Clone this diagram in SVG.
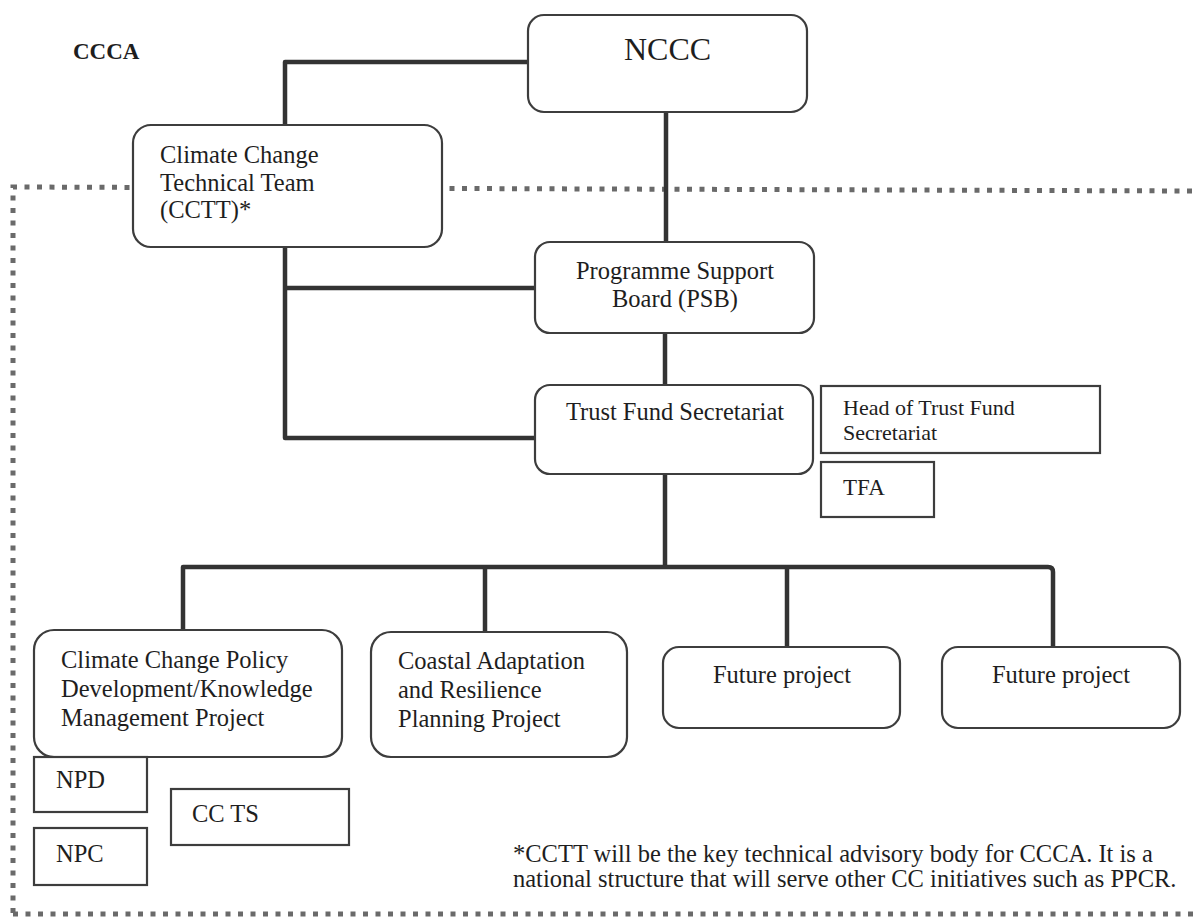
<svg xmlns="http://www.w3.org/2000/svg" width="1194" height="918" viewBox="0 0 1194 918">
<style>
.bg{fill:#ffffff}
.rbox{fill:#ffffff;stroke:#3d3d3d;stroke-width:2.2}
.sbox{fill:#ffffff;stroke:#3d3d3d;stroke-width:2.2}
.conn{fill:none;stroke:#333333;stroke-width:4.5;stroke-linejoin:round}
.dot{fill:none;stroke:#6a6a6a;stroke-width:5;stroke-dasharray:5 7.5}
text{font-family:"Liberation Serif","Times New Roman",serif;fill:#1e1e1e}
.t{font-size:24.5px}
.tc{font-size:24.5px;text-anchor:middle}
.small{font-size:22px}
</style>
<rect class="bg" x="0" y="0" width="1194" height="918"/>

<g id="boundary">
  <path class="dot" d="M13,913 L13,187 L1194,191"/>
  <path class="dot" d="M13,914 L1194,914"/>
</g>

<g id="connectors">
  <path class="conn" d="M285,125 L285,62 L533,62"/>
  <path class="conn" d="M666,112 L666,242"/>
  <path class="conn" d="M285,247 L285,438 L535,438"/>
  <path class="conn" d="M285,288 L535,288"/>
  <path class="conn" d="M665,333 L665,385"/>
  <path class="conn" d="M665,474 L665,567"/>
  <path class="conn" d="M183,630 L183,567 L1048,567 Q1053,567 1053,572 L1053,647"/>
  <path class="conn" d="M485,567 L485,632"/>
  <path class="conn" d="M787,567 L787,647"/>
</g>

<g id="label-ccca">
  <text x="73" y="59" style="font-size:23px;font-weight:bold">CCCA</text>
</g>

<g id="node-nccc">
  <rect class="rbox" x="528" y="15" width="279" height="97" rx="16"/>
  <text x="667.5" y="60" style="font-size:32px;text-anchor:middle">NCCC</text>
</g>

<g id="node-cctt">
  <rect class="rbox" x="133" y="125" width="309" height="122" rx="18"/>
  <text class="t" x="160" y="163">Climate Change</text>
  <text class="t" x="160" y="191">Technical Team</text>
  <text class="t" x="160" y="218">(CCTT)*</text>
</g>

<g id="node-psb">
  <rect class="rbox" x="535" y="242" width="279" height="91" rx="15"/>
  <text class="tc" x="675" y="279">Programme Support</text>
  <text class="tc" x="675" y="307">Board (PSB)</text>
</g>

<g id="node-tfs">
  <rect class="rbox" x="535" y="385" width="278" height="89" rx="15"/>
  <text class="tc" x="675" y="420">Trust Fund Secretariat</text>
</g>

<g id="node-head-tfs">
  <rect class="sbox" x="821" y="386" width="279" height="67"/>
  <text class="small" x="843" y="415">Head of Trust Fund</text>
  <text class="small" x="843" y="440">Secretariat</text>
</g>

<g id="node-tfa">
  <rect class="sbox" x="821" y="462" width="113" height="55"/>
  <text x="843" y="495" style="font-size:23px">TFA</text>
</g>

<g id="node-ccpd">
  <rect class="rbox" x="34" y="630" width="308" height="127" rx="20"/>
  <text class="t" x="61" y="668">Climate Change Policy</text>
  <text class="t" x="61" y="697">Development/Knowledge</text>
  <text class="t" x="61" y="726">Management Project</text>
</g>

<g id="node-carp">
  <rect class="rbox" x="371" y="632" width="256" height="125" rx="20"/>
  <text class="t" x="398" y="669">Coastal Adaptation</text>
  <text class="t" x="398" y="698">and Resilience</text>
  <text class="t" x="398" y="727">Planning Project</text>
</g>

<g id="node-future-1">
  <rect class="rbox" x="663" y="647" width="237" height="81" rx="16"/>
  <text class="tc" x="782" y="683">Future project</text>
</g>

<g id="node-future-2">
  <rect class="rbox" x="942" y="647" width="238" height="81" rx="16"/>
  <text class="tc" x="1061" y="683">Future project</text>
</g>

<g id="node-npd">
  <rect class="sbox" x="34" y="757" width="113" height="55"/>
  <text class="t" x="56" y="788">NPD</text>
</g>

<g id="node-npc">
  <rect class="sbox" x="34" y="828" width="113" height="57"/>
  <text class="t" x="56" y="862">NPC</text>
</g>

<g id="node-ccts">
  <rect class="sbox" x="171" y="789" width="178" height="56"/>
  <text class="t" x="192" y="822">CC TS</text>
</g>

<g id="footnote">
  <text class="t" x="513" y="862">*CCTT will be the key technical advisory body for CCCA. It is a</text>
  <text class="t" x="513" y="887">national structure that will serve other CC initiatives such as PPCR.</text>
</g>
</svg>
